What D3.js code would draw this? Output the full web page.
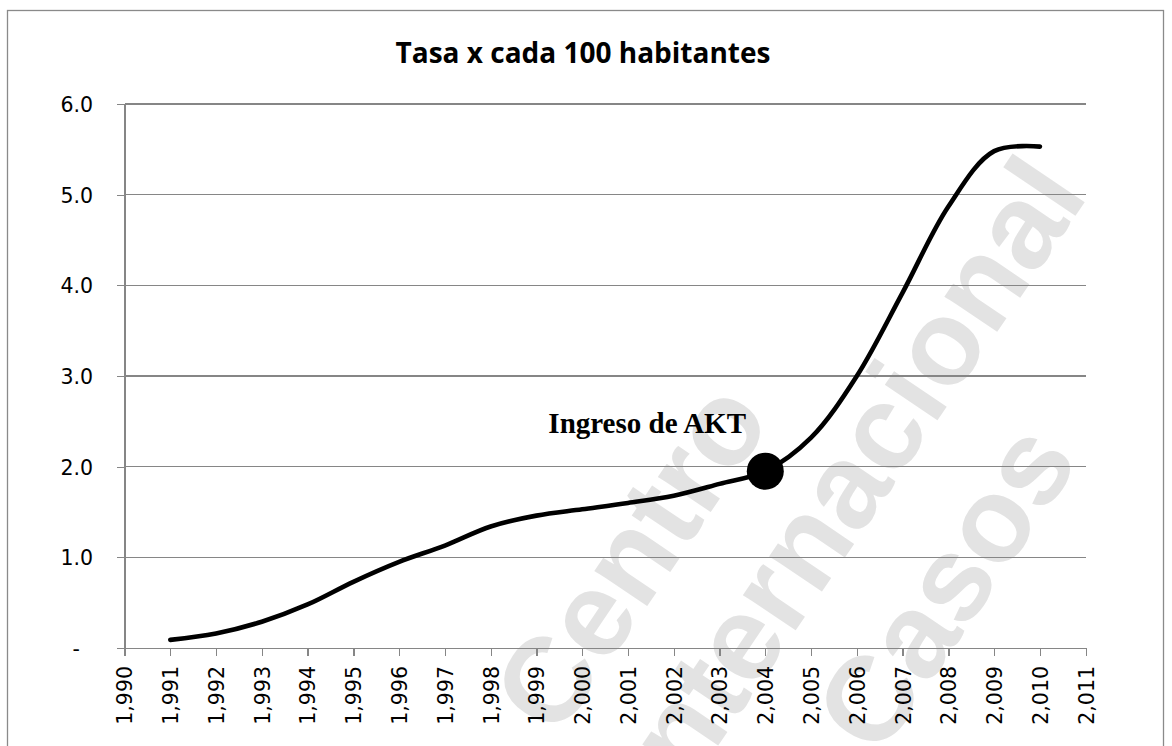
<!DOCTYPE html>
<html>
<head>
<meta charset="utf-8">
<script src="https://cdn.jsdelivr.net/npm/d3@7/dist/d3.min.js"></script>
<style>
  body { margin: 0; background: #fff; }
  svg { display: block; }
  .axis path, .axis line { stroke: #868686; stroke-width: 1.3px; shape-rendering: crispEdges; }
  .axis text { font-family: "DejaVu Sans", sans-serif; font-size: 20.5px; fill: #000; }
</style>
</head>
<body>
<div class="chart"></div>
<script>
// data
var years = [1991, 1992, 1993, 1994, 1995, 1996, 1997, 1998, 1999, 2000,
             2001, 2002, 2003, 2004, 2005, 2006, 2007, 2008, 2009, 2010]
var rates = [0.09, 0.16, 0.29, 0.48, 0.73, 0.95, 1.13, 1.34, 1.46, 1.53,
             1.60, 1.68, 1.81, 1.95, 2.32, 3.00, 3.92, 4.87, 5.48, 5.53]
var xTicks = [1990, 1991, 1992, 1993, 1994, 1995, 1996, 1997, 1998, 1999, 2000,
              2001, 2002, 2003, 2004, 2005, 2006, 2007, 2008, 2009, 2010, 2011]
var yTicks = [0, 1, 2, 3, 4, 5, 6]
var title = 'Tasa x cada 100 habitantes'
var eventYear = 2004
var eventLabel = 'Ingreso de AKT'
var labelYear = 2001.42, labelValue = 2.37
var watermark = ['Centro', 'Internacional', 'Casos']

;(function(){

  var W = 1172, H = 746
  var margin = { top: 104, left: 124.5 }
  var width = 961.2,
      height = 544

  var root = d3.select('.chart').append('svg')
        .attr('width', W)
        .attr('height', H)

  root.append('rect').attr('width', W).attr('height', H).style('fill', '#fff')

  // watermark (decorative, behind everything)
  var wmPos = [[521, 716], [636, 790], [843, 735]]
  root.append('g').selectAll('text')
      .data(watermark)
      .enter().append('text')
      .attr('transform', function(d, i){ return 'translate(' + wmPos[i][0] + ',' + wmPos[i][1] + ') rotate(-56)' })
      .attr('dy', '0.36em')
      .style('font-family', '"Liberation Sans", Arial, sans-serif')
      .style('font-weight', 'bold')
      .style('font-size', '120px')
      .style('fill', '#e3e3e3')
      .text(function(d){ return d })

  var svg = root.append('g')
        .attr('transform', 'translate(' + margin.left + ',' + margin.top + ')')

  var x = d3.scaleLinear().domain([1990, 2011]).range([0, width])
  var y = d3.scaleLinear().domain([0, 6]).range([height, 0])

  // gridlines
  svg.selectAll('.grid')
      .data(yTicks.filter(function(d){ return d > 0 }))
      .enter().append('line')
      .attr('class', 'grid')
      .attr('x1', 0)
      .attr('x2', width)
      .attr('y1', function(d){ return y(d) })
      .attr('y2', function(d){ return y(d) })
      .style('stroke', '#868686')
      .style('stroke-width', 1.3)
      .style('shape-rendering', 'crispEdges')

  var yAxis = svg.append('g')
      .attr('class', 'axis')
      .call(d3.axisLeft(y)
        .tickValues(yTicks)
        .tickSize(8)
        .tickSizeOuter(0)
        .tickPadding(23.5)
        .tickFormat(function(d){ return d === 0 ? '-  ' : d3.format('.1f')(d) }))
  yAxis.selectAll('text').style('white-space', 'pre').attr('dy', '0.36em')

  var xAxis = svg.append('g')
      .attr('class', 'axis')
      .attr('transform', 'translate(0,' + height + ')')
      .call(d3.axisBottom(x)
        .tickValues(xTicks)
        .tickSize(8)
        .tickSizeOuter(0)
        .tickFormat(d3.format(',')))
  xAxis.selectAll('text')
      .attr('transform', 'rotate(-90)')
      .attr('y', 0)
      .attr('x', -18)
      .attr('dy', '0.36em')
      .style('text-anchor', 'end')

  var points = years.map(function(d, i){ return { year: d, rate: rates[i] } })

  var line = d3.line()
      .x(function(d){ return x(d.year) })
      .y(function(d){ return y(d.rate) })
      .curve(d3.curveCatmullRom.alpha(0.5))

  svg.append('path')
      .datum(points)
      .attr('d', line)
      .style('fill', 'none')
      .style('stroke', '#000')
      .style('stroke-width', 4.6)
      .style('stroke-linecap', 'round')
      .style('stroke-linejoin', 'round')

  var ev = points.filter(function(d){ return d.year === eventYear })
  svg.selectAll('.dot')
      .data(ev)
      .enter().append('circle')
      .attr('class', 'dot')
      .attr('cx', function(d){ return x(d.year) })
      .attr('cy', function(d){ return y(d.rate) })
      .attr('r', 18.5)
      .style('fill', '#000')

  svg.append('text')
      .attr('x', x(labelYear))
      .attr('y', y(labelValue))
      .style('text-anchor', 'middle')
      .style('font-family', '"Liberation Serif", "Times New Roman", serif')
      .style('font-weight', 'bold')
      .style('font-size', '29px')
      .text(eventLabel)

  root.append('text')
      .attr('x', 583)
      .attr('y', 63)
      .style('text-anchor', 'middle')
      .style('font-family', '"Open Sans", sans-serif')
      .style('font-weight', 'bold')
      .style('font-size', '28px')
      .text(title)

  // outer frame
  root.append('rect')
      .attr('x', 7.5)
      .attr('y', 10.5)
      .attr('width', 1156)
      .attr('height', 760)
      .style('fill', 'none')
      .style('stroke', '#8a8a8a')
      .style('stroke-width', 1.3)

})()
</script>
</body>
</html>
